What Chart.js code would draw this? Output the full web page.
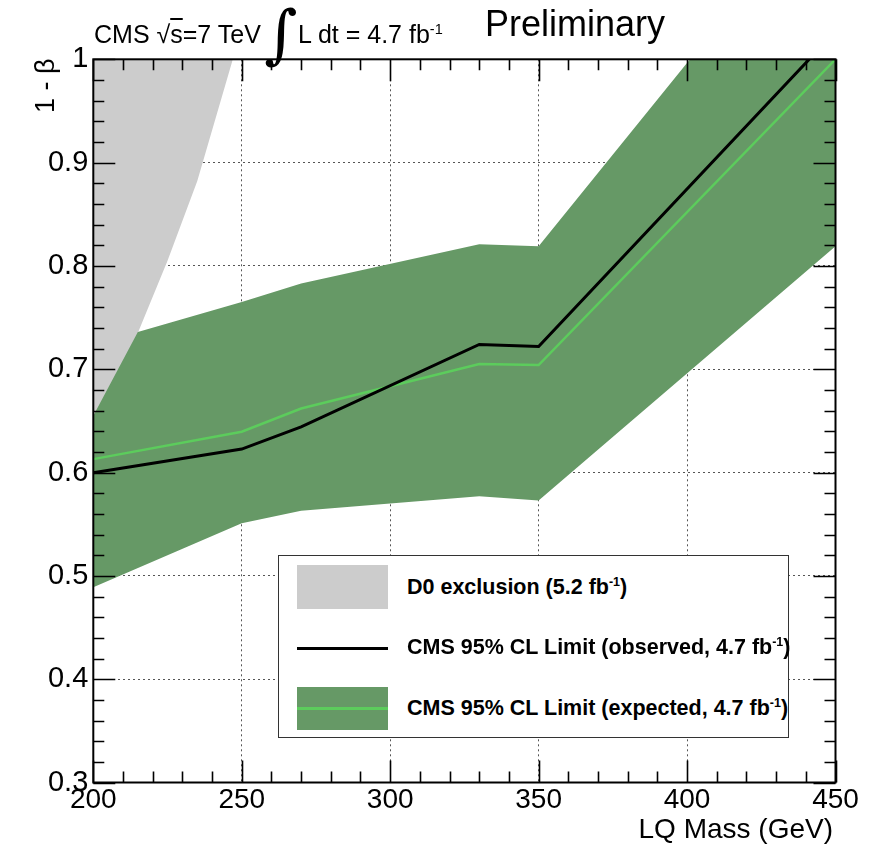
<!DOCTYPE html>
<html>
<head>
<meta charset="utf-8">
<script src="https://cdn.jsdelivr.net/npm/chart.js@4.4.1/dist/chart.umd.min.js"></script>
<style>
  html, body { margin: 0; padding: 0; background: #fff; }
  #wrap { position: relative; width: 870px; height: 849px; overflow: hidden; font-family: "Liberation Sans", Arial, sans-serif; color: #000; }
  #c { position: absolute; left: 0; top: 0; }
  .t { position: absolute; white-space: nowrap; line-height: 1; }
  sup.s { font-size: 0.58em; vertical-align: 0.62em; line-height: 0; }
  #legend { position: absolute; left: 278px; top: 555px; width: 511px; height: 183px; box-sizing: border-box; border: 1.5px solid #333; background: #fff; }
  .sw { position: absolute; }
  .lt { position: absolute; left: 128px; font-weight: bold; font-size: 21.5px; line-height: 1; white-space: nowrap; }
</style>
</head>
<body>
<div id="wrap">
  <canvas id="c" width="870" height="849"></canvas>

  <div class="t" style="left:94px; top:22px; font-size:25px;">CMS &#8730;<span style="text-decoration: overline;">s</span>=7 TeV</div>
  <div class="t" style="left:264px; top:2px; font-size:64px; font-family:'DejaVu Serif', serif;">&#8747;</div>
  <div class="t" style="left:298px; top:22px; font-size:25px;">L dt = 4.7 fb<sup class="s">-1</sup></div>
  <div class="t" style="left:485px; top:6px; font-size:36px;">Preliminary</div>

  <div class="t" style="left:32px; top:113px; font-size:27px; transform-origin: 0 0; transform: rotate(-90deg);">1 - &#946;</div>
  <div class="t" style="right:37px; top:815px; font-size:28px;">LQ Mass (GeV)</div>

  <div id="legend">
    <div class="sw" style="left:18px; top:9px; width:91px; height:44px; background:#cccccc;"></div>
    <div class="sw" style="left:18px; top:91px; width:91px; height:3px; background:#000;"></div>
    <div class="sw" style="left:18px; top:131px; width:91px; height:43px; background:#669966;"></div>
    <div class="sw" style="left:18px; top:151px; width:91px; height:2.5px; background:#5ccc5c;"></div>
    <div class="lt" style="top:21px;">D0 exclusion (5.2 fb<sup class="s">-1</sup>)</div>
    <div class="lt" style="top:81px;">CMS 95% CL Limit (observed, 4.7 fb<sup class="s">-1</sup>)</div>
    <div class="lt" style="top:142px;">CMS 95% CL Limit (expected, 4.7 fb<sup class="s">-1</sup>)</div>
  </div>
</div>

<script>
// ---- data ----
const d0Mass        = [200, 215, 225, 235, 247];
const d0Beta        = [0.63, 0.735, 0.805, 0.882, 1.0];

const bandUpMass    = [200, 215, 250, 270, 330, 350, 450];
const bandUpBeta    = [0.655, 0.736, 0.765, 0.783, 0.821, 0.819, 1.174];

const bandLoMass    = [200, 250, 270, 330, 350, 450];
const bandLoBeta    = [0.489, 0.551, 0.563, 0.577, 0.573, 0.819];

const expMass       = [200, 250, 270, 330, 350, 450];
const expBeta       = [0.613, 0.6395, 0.662, 0.705, 0.704, 1.0];

const obsMass       = [200, 250, 270, 330, 350, 450];
const obsBeta       = [0.5998, 0.6227, 0.6443, 0.724, 0.722, 1.027];

const xTickValues   = [200, 250, 300, 350, 400, 450];
const yTickValues   = [0.3, 0.4, 0.5, 0.6, 0.7, 0.8, 0.9, 1.0];

function pts(xs, ys) { return xs.map((x, i) => ({ x: x, y: ys[i] })); }

// ROOT-style frame with inward ticks on all four sides
const frameTicks = {
  id: 'frameTicks',
  afterDatasetsDraw(chart) {
    const { ctx, chartArea: a, scales: { x, y } } = chart;
    ctx.save();
    ctx.strokeStyle = '#000';
    ctx.lineWidth = 1.6;
    ctx.beginPath();
    for (let m = x.min; m <= x.max + 1e-6; m += 10) {
      const px = Math.round(x.getPixelForValue(m)) + 0.5;
      const major = Math.abs((m - x.min) % 50) < 1e-6;
      const len = major ? 22 : 11;
      ctx.moveTo(px, a.bottom); ctx.lineTo(px, a.bottom - len);
      ctx.moveTo(px, a.top); ctx.lineTo(px, a.top + len);
    }
    for (let k = 0; k <= 35; k++) {
      const v = y.min + k * 0.02;
      const py = Math.round(y.getPixelForValue(v)) + 0.5;
      const len = (k % 5 === 0) ? 22 : 11;
      ctx.moveTo(a.left, py); ctx.lineTo(a.left + len, py);
      ctx.moveTo(a.right, py); ctx.lineTo(a.right - len, py);
    }
    ctx.stroke();
    ctx.lineWidth = 2;
    ctx.strokeRect(a.left, a.top, a.right - a.left, a.bottom - a.top);
    ctx.restore();
  }
};

new Chart(document.getElementById('c'), {
  type: 'line',
  data: {
    datasets: [
      { label: 'observed', data: pts(obsMass, obsBeta), borderColor: '#000', borderWidth: 3, pointRadius: 0, fill: false, order: 0 },
      { label: 'expected', data: pts(expMass, expBeta), borderColor: '#5ccc5c', borderWidth: 2.5, pointRadius: 0, fill: false, order: 1 },
      { label: 'band up', data: pts(bandUpMass, bandUpBeta), borderWidth: 0, borderColor: 'rgba(0,0,0,0)', backgroundColor: '#669966', pointRadius: 0, fill: '+1', order: 2 },
      { label: 'band lo', data: pts(bandLoMass, bandLoBeta), borderWidth: 0, borderColor: 'rgba(0,0,0,0)', pointRadius: 0, fill: false, order: 3 },
      { label: 'D0', data: pts(d0Mass, d0Beta), borderWidth: 0, borderColor: 'rgba(0,0,0,0)', backgroundColor: '#cccccc', pointRadius: 0, fill: 'end', order: 4 }
    ]
  },
  options: {
    responsive: false,
    animation: false,
    devicePixelRatio: 1,
    layout: { padding: { top: 59.3, right: 34.5, bottom: 0, left: 0 } },
    plugins: { legend: { display: false }, tooltip: { enabled: false } },
    elements: { line: { tension: 0 } },
    scales: {
      x: {
        type: 'linear', min: 200, max: 450,
        afterFit(s) { s.height = 66.5; },
        afterBuildTicks(s) { s.ticks = xTickValues.map(v => ({ value: v })); },
        ticks: { color: '#000', padding: 1, font: { family: 'Liberation Sans', size: 28 }, maxRotation: 0, callback: v => String(v) },
        grid: { color: '#555', lineWidth: 1, drawTicks: false },
        border: { display: false, dash: [2, 3] }
      },
      y: {
        type: 'linear', min: 0.3, max: 1.0,
        afterFit(s) { s.width = 93.3; },
        afterBuildTicks(s) { s.ticks = yTickValues.map(v => ({ value: v })); },
        ticks: { color: '#000', padding: 5, font: { family: 'Liberation Sans', size: 29 }, callback: v => String(Number(v.toFixed(1))) },
        grid: { color: '#555', lineWidth: 1, drawTicks: false },
        border: { display: false, dash: [2, 3] }
      }
    }
  },
  plugins: [frameTicks]
});
</script>
</body>
</html>
